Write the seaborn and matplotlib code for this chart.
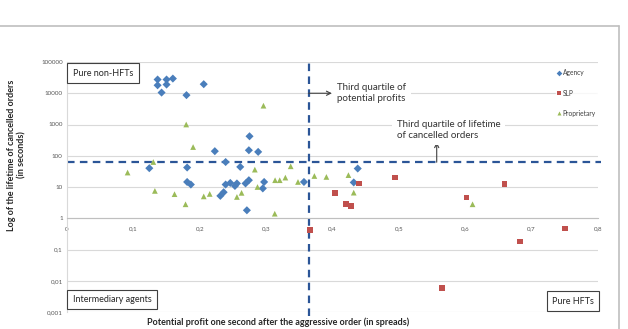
import numpy as np
import pandas as pd
import seaborn as sns
import matplotlib.pyplot as plt
from matplotlib.lines import Line2D
from matplotlib.ticker import FixedLocator, FixedFormatter

# data
agency_x = [0.1365, 0.1365, 0.1425, 0.150, 0.150, 0.1595, 0.180, 0.206, 0.124, 0.181,
            0.181, 0.1866, 0.2227, 0.239, 0.231, 0.236, 0.239, 0.246, 0.253, 0.256,
            0.261, 0.269, 0.274, 0.275, 0.274, 0.288, 0.295, 0.297, 0.271, 0.357,
            0.438, 0.432]
agency_y = [27500, 18000, 10500, 27500, 19000, 29500, 8700, 19500, 40, 42,
            14.5, 12, 140, 63, 5.2, 6.8, 12, 13.5, 10.8, 13,
            44, 13, 16.5, 420, 150, 133, 9, 14.5, 1.8, 14.5,
            39, 14]
slp_x = [0.4946, 0.4394, 0.4033, 0.420, 0.428, 0.659, 0.602, 0.366, 0.750, 0.683, 0.565]
slp_y = [20, 13, 6.4, 2.8, 2.5, 12.3, 4.6, 0.43, 0.47, 0.18, 0.006]
prop_x = [0.0913, 0.130, 0.1324, 0.162, 0.1786, 0.1796, 0.190, 0.206, 0.215, 0.256,
          0.263, 0.283, 0.287, 0.296, 0.3135, 0.3205, 0.329, 0.337, 0.348, 0.3727,
          0.313, 0.3908, 0.424, 0.432, 0.611]
prop_y = [29, 63, 7.5, 5.9, 2.8, 1000, 190, 5, 6, 4.8,
          6.5, 36, 10, 4000, 16.5, 16.5, 20, 46, 14.5, 22.5,
          1.4, 21, 24, 6.6, 2.8]

q3_profit = 0.364
q3_lifetime = 62

y_ticks = [1e5, 1e4, 1e3, 100, 10, 1, 0.1, 0.01, 0.001]
y_labels = ['100000', '10000', '1000', '100', '10', '1', '0,1', '0,01', '0,001']
x_ticks = [0, 0.1, 0.2, 0.3, 0.4, 0.5, 0.6, 0.7, 0.8]
x_labels = ['0', '0,1', '0,2', '0,3', '0,4', '0,5', '0,6', '0,7', '0,8']

df = pd.concat([
    pd.DataFrame({'x': agency_x, 'y': agency_y, 'type': 'Agency'}),
    pd.DataFrame({'x': slp_x, 'y': slp_y, 'type': 'SLP'}),
    pd.DataFrame({'x': prop_x, 'y': prop_y, 'type': 'Proprietary'}),
])

sns.set_style('white')
plt.rcParams['font.family'] = ['Lato', 'DejaVu Sans']

fig = plt.figure(figsize=(6.28, 3.29), dpi=100)
ax = fig.add_axes([67 / 628, 1 - 312 / 329, 531 / 628, 250 / 329])

pal = {'Agency': '#4A7EBB', 'SLP': '#C0504D', 'Proprietary': '#9BBB59'}
mk = {'Agency': 'D', 'SLP': 's', 'Proprietary': '^'}
sns.scatterplot(data=df, x='x', y='y', hue='type', style='type', palette=pal,
                markers=mk, s=17, linewidth=0, ax=ax, zorder=3)

ax.set_yscale('log')
ax.set_xlim(0, 0.8)
ax.set_ylim(0.001, 100000)
ax.yaxis.set_major_locator(FixedLocator(y_ticks))
ax.yaxis.set_major_formatter(FixedFormatter(y_labels))
ax.yaxis.set_minor_locator(FixedLocator([]))
ax.set_xticks(x_ticks)
ax.set_xticklabels(x_labels)
ax.tick_params(axis='both', labelsize=4.5, colors='#595959', length=0, pad=3)
ax.tick_params(axis='x', pad=6)
ax.grid(axis='y', color='#D9D9D9', lw=0.8, zorder=0)
ax.set_xlabel('')
ax.set_ylabel('')

for s in ['top', 'right']:
    ax.spines[s].set_visible(False)
ax.spines['bottom'].set_position(('data', 1))
ax.spines['bottom'].set_color('#BFBFBF')
ax.spines['left'].set_color('#D9D9D9')
ax.spines['bottom'].set_linewidth(0.8)
ax.spines['left'].set_linewidth(0.8)

# quartile lines
dash_c = '#2B5597'
ax.axvline(q3_profit, color=dash_c, lw=1.6, ls=(0, (3.4, 2.4)), zorder=2, ymin=-0.015, ymax=1.0,
           clip_on=False)
ax.axhline(q3_lifetime, color=dash_c, lw=1.6, ls=(0, (3.4, 2.4)), zorder=2, xmin=0, xmax=1.005,
           clip_on=False)

# annotations
arrow_style = '->,head_length=0.3,head_width=0.15'
ax.annotate('', xy=(0.399, 10000), xytext=(q3_profit, 10000),
            arrowprops=dict(arrowstyle=arrow_style,
                            color='#404040', lw=0.8, shrinkA=0, shrinkB=0), zorder=4)
ax.text(0.508, 0.876, 'Third quartile of\npotential profits', transform=ax.transAxes,
        fontsize=7, color='#333333', va='center', ha='left', linespacing=1.25,
        bbox=dict(boxstyle='square,pad=0.5', fc='white', ec='none'), zorder=4)
ax.annotate('', xy=(0.557, 270), xytext=(0.557, q3_lifetime),
            arrowprops=dict(arrowstyle=arrow_style,
                            color='#404040', lw=0.8, shrinkA=0, shrinkB=0), zorder=4)
ax.text(0.621, 0.728, 'Third quartile of lifetime\nof cancelled orders', transform=ax.transAxes,
        fontsize=7, color='#333333', va='center', ha='left', linespacing=1.25,
        bbox=dict(boxstyle='square,pad=0.5', fc='white', ec='none'), zorder=4)

box = dict(boxstyle='square,pad=0.6', fc='white', ec='#404040', lw=0.8)
ax.text(0.011, 0.956, 'Pure non-HFTs', transform=ax.transAxes, fontsize=6.5,
        color='#262626', va='center', ha='left', bbox=box, zorder=5)
ax.text(0.011, 0.05, 'Intermediary agents', transform=ax.transAxes, fontsize=6.5,
        color='#262626', va='center', ha='left', bbox=box, zorder=5)
ax.text(0.9925, 0.044, 'Pure HFTs', transform=ax.transAxes, fontsize=6.5,
        color='#262626', va='center', ha='right', bbox=box, zorder=5)

leg = ax.legend(loc='upper right', bbox_to_anchor=(1.005, 0.99), fontsize=4.8,
                frameon=True, labelspacing=2.0, handlelength=0.6, handletextpad=0.3,
                markerscale=0.7, borderpad=0.2)
leg.get_frame().set_facecolor('white')
leg.get_frame().set_edgecolor('white')
for t in leg.get_texts():
    t.set_color('#404040')

fig.text(0.027, 1 - 155 / 329, 'Log of the lifetime of cancelled orders\n(in seconds)',
         rotation=90, ha='center', va='center', fontsize=6.5, fontweight='bold',
         color='#262626', linespacing=1.2)
fig.text(278 / 628, 1 - 322 / 329, 'Potential profit one second after the aggressive order (in spreads)',
         ha='center', va='center', fontsize=6.5, fontweight='bold', color='#262626')

# outer chart border
fig.add_artist(Line2D([0, 619 / 628], [1 - 26 / 329] * 2, color='#BFBFBF', lw=1.2))
fig.add_artist(Line2D([619 / 628] * 2, [0, 1 - 26 / 329], color='#BFBFBF', lw=1.2))

fig.savefig('out.png', dpi=100)
